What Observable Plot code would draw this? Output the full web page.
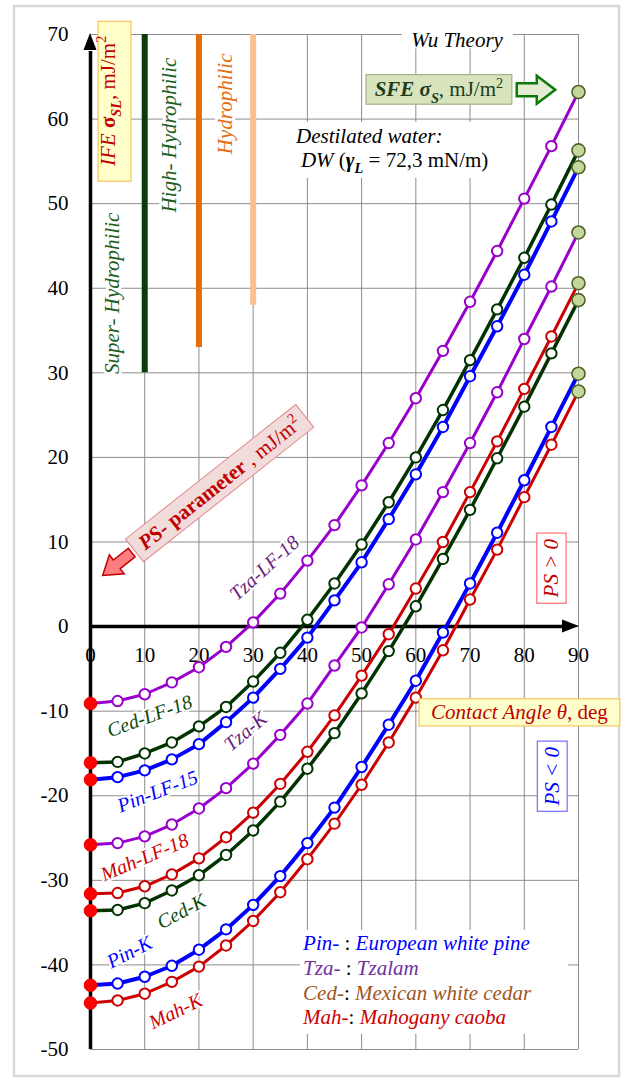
<!DOCTYPE html>
<html><head><meta charset="utf-8">
<script src="https://cdn.jsdelivr.net/npm/d3@7"></script>
<script src="https://cdn.jsdelivr.net/npm/@observablehq/plot@0.6"></script>
<style>
html,body{margin:0;padding:0;background:#fff;}
#chart svg{display:block;}
</style></head><body><div id="chart"></div>
<script>
// ---------- data ----------
const angles = [0,5,10,15,20,25,30,35,40,45,50,55,60,65,70,75,80,85,90];
const tzaLF18 = [-9.1,-8.8,-8.0,-6.6,-4.8,-2.4,0.5,3.9,7.8,12.0,16.7,21.7,27.0,32.6,38.4,44.4,50.6,56.8,63.2];
const cedLF18 = [-16.1,-16.0,-15.0,-13.7,-11.8,-9.5,-6.5,-3.1,0.8,5.1,9.7,14.7,20.0,25.6,31.5,37.5,43.6,49.9,56.3];
const pinLF15 = [-18.1,-17.8,-17.0,-15.7,-13.9,-11.3,-8.4,-5.0,-1.3,3.1,7.6,12.7,18.0,23.6,29.6,35.5,41.6,47.9,54.3];
const tzaK    = [-25.8,-25.6,-24.8,-23.4,-21.5,-19.1,-16.2,-12.8,-9.1,-4.6,-0.1,5.0,10.3,15.9,21.7,27.7,34.0,40.2,46.6];
const mahLF18 = [-31.6,-31.5,-30.7,-29.3,-27.4,-24.9,-22.0,-18.6,-14.8,-10.5,-5.8,-0.9,4.5,10.0,15.9,21.9,28.1,34.3,40.6];
const cedK    = [-33.6,-33.5,-32.7,-31.2,-29.4,-27.0,-24.1,-20.7,-16.8,-12.6,-7.9,-2.9,2.4,8.0,13.8,19.9,26.0,32.3,38.6];
const pinK    = [-42.4,-42.2,-41.4,-40.1,-38.2,-35.8,-32.9,-29.5,-25.6,-21.4,-16.6,-11.6,-6.4,-0.7,5.1,11.1,17.3,23.6,29.9];
const mahK    = [-44.5,-44.2,-43.4,-42.0,-40.2,-37.7,-34.8,-31.4,-27.5,-23.3,-18.7,-13.7,-8.4,-2.8,3.2,9.1,15.3,21.5,27.8];

const seriesNames  = ["Tza-LF-18","Ced-LF-18","Pin-LF-15","Tza-K","Mah-LF-18","Ced-K","Pin-K","Mah-K"];
const seriesValues = [tzaLF18, cedLF18, pinLF15, tzaK, mahLF18, cedK, pinK, mahK];
const seriesColors = ["#9900cc","#003300","#0000ff","#9900cc","#cc0000","#003300","#0000ff","#cc0000"];
const seriesWidths = [3,3.5,4,3,3,3.5,4,3];

const xTicks = [0,10,20,30,40,50,60,70,80,90];
const yTicks = [70,60,50,40,30,20,10,0,-10,-20,-30,-40,-50];
const yTickLabels = ["70","60","50","40","30","20","10","0","-10","-20","-30","-40","-50"];

// series labels (position in data units, rotation in degrees)
const labelText  = ["Tza-LF-18","Ced-LF-18","Pin-LF-15","Tza-K","Mah-LF-18","Ced-K","Pin-K","Mah-K"];
const labelX     = [32.1,10.9,12.4,28.6,10.0,16.8,7.2,15.7];
const labelY     = [6.9,-10.6,-19.5,-12.4,-27.3,-33.7,-38.5,-45.5];
const labelRot   = [-42,-20,-21,-40,-23,-28,-27,-26];
const labelColor = ["#6b1d7d","#0b4a0b","#0000ff","#6b1d7d","#cc0000","#0b4a0b","#0000ff","#cc0000"];

// wettability bars
const barX = [10,20,30];
const barFrom = [30,33,38];
const barColor = ["#0a3c0a","#e46c0a","#fac090"];
const barLabels = ["Super- Hydrophilic","High- Hydrophilic","Hydrophilic"];
const barLabelX = [4.1,14.6,24.9];
const barLabelY = [39.4,58.1,61.8];
const barLabelColor = ["#1b5e20","#1b5e20","#e46c0a"];

// ---------- build rows ----------
const rows = [];
seriesNames.forEach((s,k)=>angles.forEach((a,i)=>rows.push({series:s,k,theta:a,ps:seriesValues[k][i],i})));
const labels = labelText.map((t,i)=>({t,x:labelX[i],y:labelY[i],r:labelRot[i],c:labelColor[i]}));
const bars = barX.map((x,i)=>({x,y1:barFrom[i],c:barColor[i]}));
const barLab = barLabels.map((t,i)=>({t,x:barLabelX[i],y:barLabelY[i],c:barLabelColor[i]}));

const FONT = '"Liberation Serif","Times New Roman",Tinos,"DejaVu Serif",serif';
const grid = "#8c8c8c";

const marks = [
  Plot.ruleX(xTicks.slice(1), {y1:-50, y2:70, stroke:grid, strokeWidth:1}),
  Plot.ruleY(yTicks, {x1:0, x2:90, stroke:grid, strokeWidth:1}),
  // white backgrounds for text blocks
  Plot.rect([{x1:57.5,x2:78,y1:68.3,y2:71.2},{x1:36.9,x2:74.7,y1:53.0,y2:59.6},{x1:38.7,x2:88.2,y1:-48.2,y2:-35.9}],
    {x1:"x1",x2:"x2",y1:"y1",y2:"y2",fill:"white"}),
  // wettability bars
  Plot.ruleX(bars, {x:"x", y1:"y1", y2:70, stroke:"c", strokeWidth:6}),
  Plot.text(barLab, {x:"x", y:"y", text:"t", rotate:-90, fill:"c", fontStyle:"italic", fontSize:21,
    fontFamily:FONT, stroke:"white", strokeWidth:6, paintOrder:"stroke"}),
  // IFE box, SFE box, PS boxes
  Plot.rect([{x1:1.5,x2:7.55,y1:52.6,y2:71.5}], {x1:"x1",x2:"x2",y1:"y1",y2:"y2",fill:"#ffffcc",stroke:"#f8c55a",strokeWidth:1.2}),
  Plot.rect([{x1:50.9,x2:77.8,y1:61.7,y2:65.2}], {x1:"x1",x2:"x2",y1:"y1",y2:"y2",fill:"#d7e4bd",stroke:"#9fb586",strokeWidth:1.2}),
  Plot.rect([{x1:82.4,x2:87.8,y1:2.7,y2:11.0}], {x1:"x1",x2:"x2",y1:"y1",y2:"y2",fill:"white",stroke:"#ff7070",strokeWidth:1.2}),
  Plot.rect([{x1:82.5,x2:88.0,y1:-21.9,y2:-13.6}], {x1:"x1",x2:"x2",y1:"y1",y2:"y2",fill:"white",stroke:"#7070ff",strokeWidth:1.2}),
  // tick labels
  Plot.text(yTicks, {x:0, y:d=>d, text:(d,i)=>yTickLabels[i], dx:-22, textAnchor:"end", fontSize:21, fontFamily:FONT, fill:"black"}),
  Plot.text(xTicks, {x:d=>d, y:0, text:d=>String(d), dy:29, fontSize:21, fontFamily:FONT, fill:"black"}),
  // axes
  Plot.ruleX([0], {y1:-50, y2:68, stroke:"black", strokeWidth:3.5}),
  Plot.ruleY([0], {x1:0, x2:87.5, stroke:"black", strokeWidth:3.5}),
];

seriesNames.forEach((s,k)=>{
  const d = rows.filter(r=>r.k===k);
  marks.push(Plot.line(d, {x:"theta", y:"ps", stroke:seriesColors[k], strokeWidth:seriesWidths[k]}));
  marks.push(Plot.dot(d.filter(r=>r.i>0 && r.i<18), {x:"theta", y:"ps", r:5.2, fill:"white", stroke:seriesColors[k], strokeWidth:2}));
});
seriesNames.forEach((s,k)=>{
  const d = rows.filter(r=>r.k===k);
  marks.push(Plot.dot(d.filter(r=>r.i===0), {x:"theta", y:"ps", r:6.3, fill:"#ff0000", stroke:"#ee0000", strokeWidth:1}));
  marks.push(Plot.dot(d.filter(r=>r.i===18), {x:"theta", y:"ps", r:6.5, fill:"#c3d69b", stroke:"#4f6228", strokeWidth:1.6}));
});
marks.push(Plot.text(labels, {x:"x", y:"y", text:"t", rotate:"r", fill:"c", fontStyle:"italic", fontSize:20,
  fontFamily:FONT, stroke:"white", strokeWidth:4, paintOrder:"stroke"}));
// contact angle box (drawn over the curves)
marks.push(Plot.rect([{x1:60.7,x2:97.7,y1:-11.8,y2:-8.6}], {x1:"x1",x2:"x2",y1:"y1",y2:"y2",fill:"#ffffcc",stroke:"#f8c55a",strokeWidth:1.2}));

const chart = Plot.plot({
  width:628, height:1080, marginLeft:90, marginRight:50, marginTop:34, marginBottom:31,
  x:{domain:[0,90], axis:null}, y:{domain:[-50,70], axis:null},
  style:{fontFamily:FONT, background:"white", overflow:"visible"},
  marks
});
document.getElementById("chart").appendChild(chart);

// ---------- annotations on top ----------
const sx = v => chart.scale("x").apply(v);
const sy = v => chart.scale("y").apply(v);
const svg = d3.select(chart);
const g = svg.append("g");

// outer frame
svg.insert("rect", ":first-child").attr("x",14).attr("y",6).attr("width",605).attr("height",1070)
  .attr("fill","none").attr("stroke","#d9d9d9").attr("stroke-width",2.5);

function rich(parent, x, y, parts, o) {
  const size = o.size || 21;
  const t = parent.append("text")
    .attr("transform", `translate(${x},${y}) rotate(${o.rotate||0})`)
    .attr("text-anchor", o.anchor || "start")
    .attr("font-size", size).attr("font-family", FONT);
  let shift = 0;
  for (const p of parts) {
    const target = p.sub ? size*0.3 : p.sup ? -size*0.4 : 0;
    const ts = t.append("tspan").text(p.t).attr("dy", target - shift);
    shift = target;
    if (p.sub || p.sup) ts.attr("font-size", size*0.68);
    ts.attr("font-style", p.i ? "italic" : "normal")
      .attr("font-weight", p.b ? "bold" : "normal")
      .attr("fill", p.fill || o.fill || "black");
  }
  return t;
}

// axis arrowheads
g.append("path").attr("d", `M${sx(0)},${sy(70)-1} L${sx(0)-6.5},${sy(70)+16} L${sx(0)+6.5},${sy(70)+16} Z`).attr("fill","black");
g.append("path").attr("d", `M${sx(90)+1},${sy(0)} L${sx(90)-16},${sy(0)-6.5} L${sx(90)-16},${sy(0)+6.5} Z`).attr("fill","black");

// IFE label
rich(g, sx(4.55), sy(62.1), [
  {t:"IFE ", i:true}, {t:"σ", b:true}, {t:"SL", b:true, i:true, sub:true}, {t:", mJ/m"}, {t:"2", sup:true}
], {rotate:-90, anchor:"middle", fill:"#c00000", size:21});

// Wu Theory
rich(g, sx(67.7), sy(69.3)+7, [{t:"Wu Theory", i:true}], {anchor:"middle", size:21});

// SFE label
rich(g, sx(64.35), sy(63.45)+7, [
  {t:"SFE σ", b:true, i:true}, {t:"S", b:true, i:true, sub:true}, {t:", mJ/m"}, {t:"2", sup:true}
], {anchor:"middle", fill:"#1d3d1d", size:21});

// SFE hollow arrow
{
  const x0 = sx(78.7), x1 = sx(82.4), x2 = sx(85.8), yc = sy(63.4);
  g.append("path").attr("d",
    `M${x0},${yc-6.5} L${x1},${yc-6.5} L${x1},${yc-14} L${x2},${yc} L${x1},${yc+14} L${x1},${yc+6.5} L${x0},${yc+6.5} Z`)
    .attr("fill","#e4edd3").attr("stroke","#0a7a0a").attr("stroke-width",2.5).attr("stroke-linejoin","miter");
}

// Destilated water
rich(g, sx(38.0), sy(57.1), [{t:"Destilated water:", i:true}], {size:21});
rich(g, sx(38.9), sy(54.3), [
  {t:"DW", i:true}, {t:" ("}, {t:"γ", b:true, i:true}, {t:"L", b:true, i:true, sub:true}, {t:" = 72,3 mN/m)"}
], {size:21});

// PS-parameter rotated box + block arrow
{
  const cx = sx(23.9), cy = sy(16.9);
  const pg = g.append("g").attr("transform", `translate(${cx},${cy}) rotate(-38.3)`);
  pg.append("rect").attr("x",-108.5).attr("y",-14.5).attr("width",217).attr("height",29)
    .attr("fill","#f2dcdb").attr("stroke","#e08a8a").attr("stroke-width",1);
  rich(pg, 0, 7, [
    {t:"PS-", b:true, i:true}, {t:" parameter", b:true}, {t:" , mJ/m"}, {t:"2", sup:true}
  ], {anchor:"middle", fill:"#c00000", size:21});
  pg.append("path").attr("d",
    "M-112,-5.5 L-131,-5.5 L-131,-12 L-149,0 L-131,12 L-131,5.5 L-112,5.5 Z")
    .attr("fill","#ff7c80").attr("stroke","#c00000").attr("stroke-width",1.5);
}

// Contact Angle
rich(g, sx(79.2), sy(-10.2)+7, [{t:"Contact Angle θ", i:true}, {t:", deg"}], {anchor:"middle", fill:"#c00000", size:21});

// PS > 0 and PS < 0
rich(g, sx(85.1)+7, sy(6.85), [{t:"PS > 0", i:true}], {rotate:-90, anchor:"middle", fill:"#c00000", size:21});
rich(g, sx(85.25)+7, sy(-17.75), [{t:"PS < 0", i:true}], {rotate:-90, anchor:"middle", fill:"#0000ff", size:21});

// legend text
const legendRows = [
  {y:-38.3, parts:[{t:"Pin-", i:true, fill:"#0000ff"}, {t:" : "}, {t:"European white pine", i:true, fill:"#0000ff"}]},
  {y:-41.3, parts:[{t:"Tza-", i:true, fill:"#7030a0"}, {t:" : "}, {t:"Tzalam", i:true, fill:"#7030a0"}]},
  {y:-44.2, parts:[{t:"Ced-", i:true, fill:"#a0561e"}, {t:": "}, {t:"Mexican white cedar", i:true, fill:"#a0561e"}]},
  {y:-47.0, parts:[{t:"Mah-", i:true, fill:"#cc0000"}, {t:": "}, {t:"Mahogany caoba", i:true, fill:"#cc0000"}]},
];
legendRows.forEach(r => rich(g, sx(39.3), sy(r.y), r.parts, {size:21}));
</script>
</body></html>
